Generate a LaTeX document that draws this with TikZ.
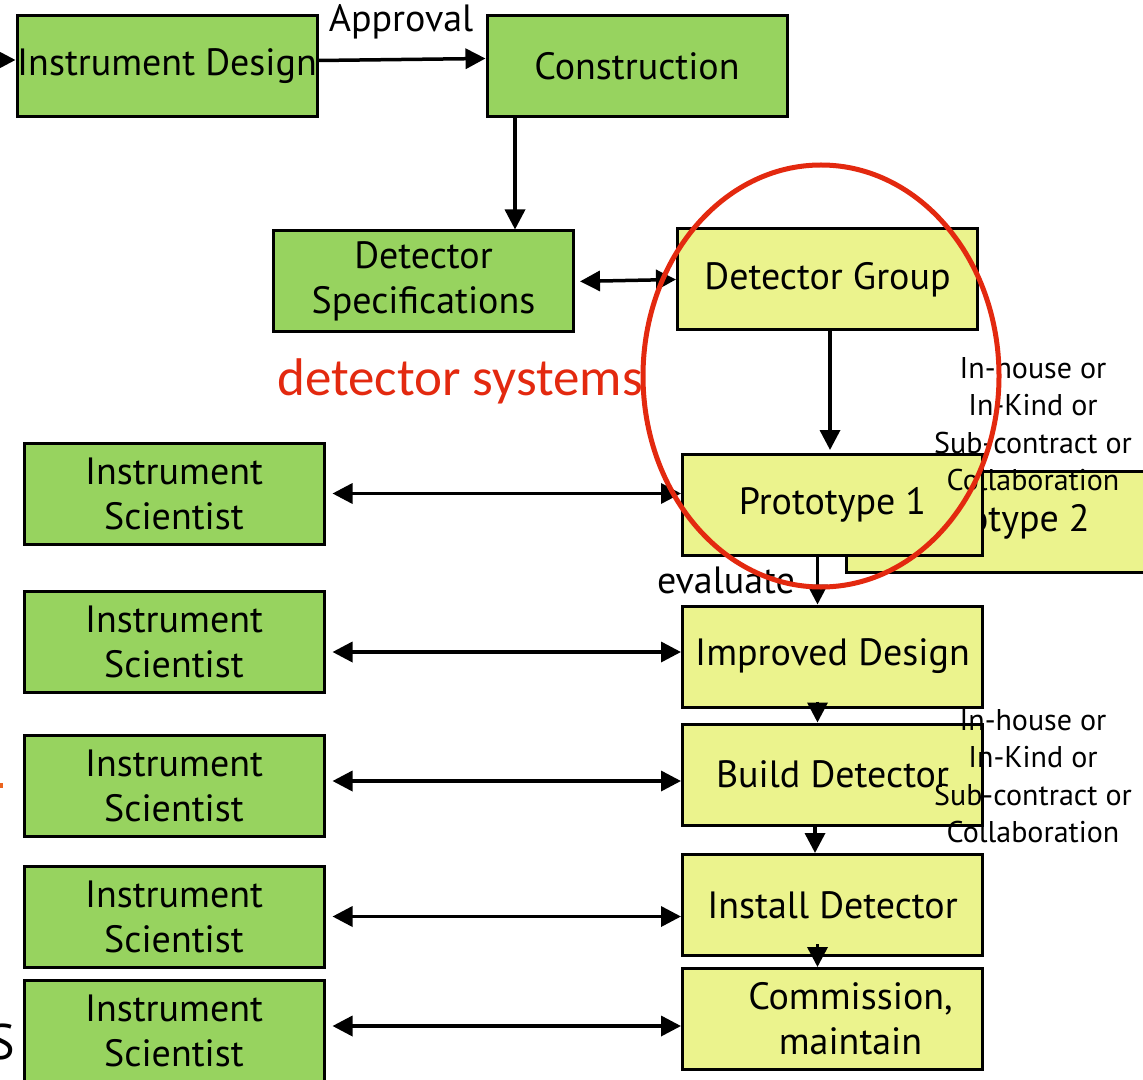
\documentclass[tikz,border=0pt]{standalone}
\usepackage{fontspec}
\setmainfont{PT Sans}
\newfontfamily\redfont{Carlito}
\usetikzlibrary{arrows.meta, positioning}
\definecolor{boxgreen}{RGB}{151,211,95}
\definecolor{boxyellow}{RGB}{235,243,141}
\definecolor{ringred}{RGB}{227,41,15}
\definecolor{cutorange}{RGB}{235,100,30}
\tikzset{
  greenbox/.style={draw=black, line width=1.5pt, fill=boxgreen, minimum width=150pt, minimum height=50.5pt, inner sep=0pt, align=center, font=\fontsize{19}{22.5}\selectfont},
  yellowbox/.style={greenbox, fill=boxyellow},
  link/.style={-{Triangle[length=10pt,width=10pt]}, line width=1.75pt},
  twoway/.style={{Triangle[length=10pt,width=10pt]}-{Triangle[length=10pt,width=10pt]}, line width=1.75pt},
  smalltext/.style={align=center, font=\fontsize{15}{18.75}\selectfont, inner sep=0pt},
  bigtext/.style={font=\fontsize{19}{22.5}\selectfont, inner sep=0pt}
}
\newcommand\scibox[2]{\node[greenbox] (#1) at (174,#2) {Instrument\\Scientist};}

\begin{document}
\begin{tikzpicture}[x=0.5pt,y=-0.5pt]
\clip (0,0) rectangle (1143,1079);

\node[greenbox] (design) at (167,66.5) {Instrument Design};
\node[greenbox] (construction) at (637,66.5) {Construction};
\node[greenbox] (specs) at (423.5,281.5) {Detector\\Specifications};
\node[yellowbox] (group) at (827.5,279.5) {Detector Group};
\node[yellowbox] (proto2) at (996,521.5) {Prototype 2};
\node[yellowbox] (proto1) at (832.5,505) {Prototype 1};
\node[yellowbox] (improved) at (832.5,656.5) {Improved Design};
\node[yellowbox] (build) at (832.5,774.5) {Build Detector};
\node[yellowbox] (install) at (832.5,905) {Install Detector};
\node[yellowbox] (commission) at (832.5,1019) {\hspace*{18pt}Commission,\\\hspace*{18pt}maintain};

\scibox{sci1}{493.5}
\scibox{sci2}{642}
\scibox{sci3}{786}
\scibox{sci4}{916.5}
\scibox{sci5}{1031}

\node[bigtext] (approval) at (401,22) {Approval};
\node[bigtext] (evaluate) at (726,580) {evaluate};
\node[smalltext] (sourcing1) at (1033,424) {In-house or\\In-Kind or\\Sub-contract or\\Collaboration};
\node[smalltext] (sourcing2) at (1033,776) {In-house or\\In-Kind or\\Sub-contract or\\Collaboration};
\node[inner sep=0pt, text=ringred, font=\redfont\fontsize{26.5}{31}\selectfont] (systems) at (460,381) {detector systems};
\node[anchor=east, inner sep=0pt, font=\fontsize{25}{30}\selectfont] (cutS) at (15,1042) {S};
\fill[cutorange] (0,783) rectangle (3,788);

\coordinate (entry) at (0,60);
\draw[link] (entry) -- (entry -| design.west);
\draw[link] ([yshift=3pt]design.east) -- ([yshift=4pt]construction.west);
\draw[link] ([xshift=-61pt]construction.south) -- ([xshift=-61pt]construction.south |- specs.north);
\draw[twoway, shorten <=2.5pt] (specs.east) -- (group.west);
\draw[link, shorten >=1.5pt] ([xshift=1.25pt]group.south) -- ([xshift=1.25pt]group.south |- proto1.north);
\draw[link] ([xshift=-7.5pt]proto1.south) -- ([xshift=-7.5pt]improved.north);
\draw[link] ([xshift=-7.5pt,yshift=3.5pt]improved.south) -- ([xshift=-7.5pt]build.north);
\draw[link] ([xshift=-8.75pt]build.south) -- ([xshift=-8.75pt]install.north);
\draw[link] ([xshift=-7.5pt,yshift=6.5pt]install.south) -- ([xshift=-7.5pt]commission.north);

\draw[twoway, shorten <=3.5pt] (sci1.east) -- (sci1.east -| proto1.west);
\draw[twoway, shorten <=3.5pt] ([yshift=-5pt]sci2.east) -- ([yshift=-5pt]sci2.east -| improved.west);
\draw[twoway, shorten <=3.5pt] ([yshift=2.5pt]sci3.east) -- ([yshift=2.5pt]sci3.east -| build.west);
\draw[twoway, shorten <=3.5pt] (sci4.east) -- (sci4.east -| install.west);
\draw[twoway, shorten <=3.5pt] ([yshift=2.5pt]sci5.east) -- ([yshift=2.5pt]sci5.east -| commission.west);

\draw[ringred, line width=2.5pt] (821,376) ellipse [x radius=89pt, y radius=105.5pt];
\end{tikzpicture}
\end{document}
